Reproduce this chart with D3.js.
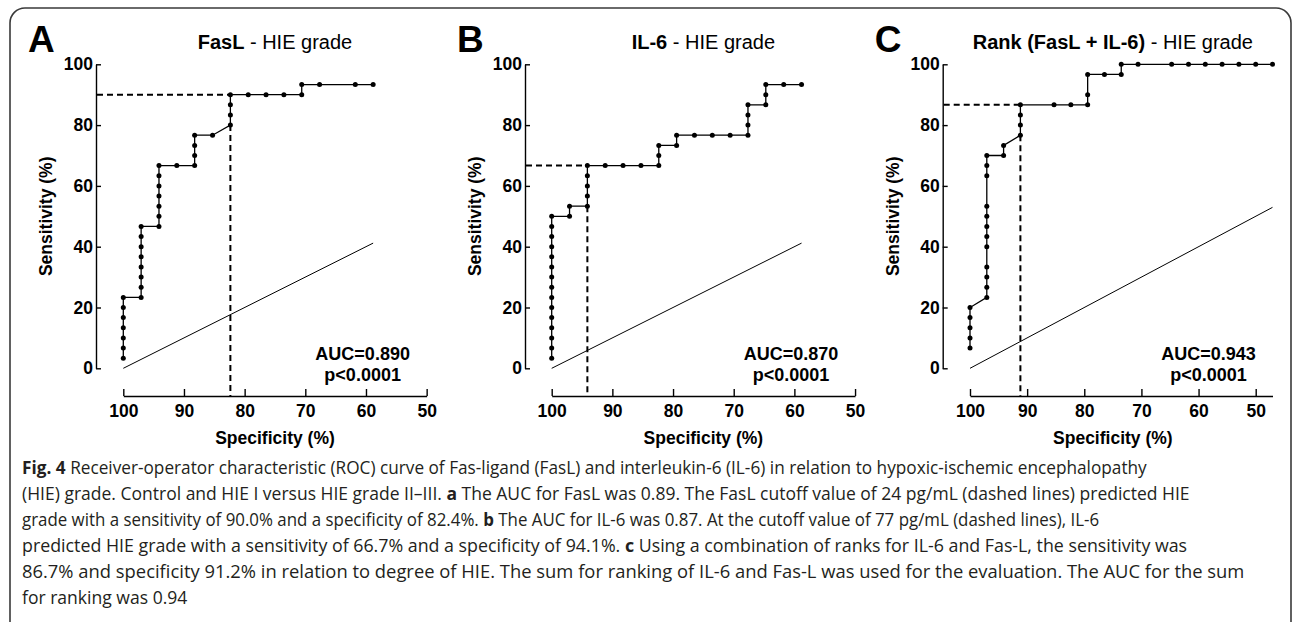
<!DOCTYPE html>
<html>
<head>
<meta charset="utf-8">
<script src="https://cdn.jsdelivr.net/npm/d3@7"></script>
<style>
body { margin: 0; background: #fff; }
svg { display: block; }
</style>
</head>
<body>
<div id="main_center"></div>
<script>
// ROC data (specificity %, sensitivity %)
var specA = [100,100,100,100,100,100,100, 97.06,97.06,97.06,97.06,97.06,97.06,97.06,97.06,
  94.12,94.12,94.12,94.12,94.12,94.12,94.12, 91.18, 88.24,88.24,88.24,88.24, 85.29,
  82.35,82.35,82.35,82.35, 79.41,76.47,73.53,70.59,70.59, 67.65,61.76,58.82];
var sensA = [3.33,6.67,10,13.33,16.67,20,23.33, 23.33,26.67,30,33.33,36.67,40,43.33,46.67,
  46.67,50,53.33,56.67,60,63.33,66.67, 66.67, 66.67,70,73.33,76.67, 76.67,
  80,83.33,86.67,90, 90,90,90,90,93.33, 93.33,93.33,93.33];

var specB = [100,100,100,100,100,100,100,100,100,100,100,100,100,100,100, 97.06,97.06,
  94.12,94.12,94.12,94.12,94.12, 91.18,88.24,85.29, 82.35,82.35,82.35, 79.41,79.41,
  76.47,73.53,70.59, 67.65,67.65,67.65,67.65, 64.71,64.71,64.71, 61.76,58.82];
var sensB = [3.33,6.67,10,13.33,16.67,20,23.33,26.67,30,33.33,36.67,40,43.33,46.67,50, 50,53.33,
  53.33,56.67,60,63.33,66.67, 66.67,66.67,66.67, 66.67,70,73.33, 73.33,76.67,
  76.67,76.67,76.67, 76.67,80,83.33,86.67, 86.67,90,93.33, 93.33,93.33];

var specC = [100,100,100,100,100, 97.06,97.06,97.06,97.06,97.06,97.06,97.06,97.06,97.06,97.06,97.06,97.06,
  94.12,94.12, 91.18,91.18,91.18,91.18, 85.29,82.35,79.41,79.41,79.41, 76.47,73.53,73.53,
  70.59,64.71,61.76,58.82,55.88,52.94,50,47.06];
var sensC = [6.67,10,13.33,16.67,20, 23.33,26.67,30,33.33,40,43.33,46.67,50,53.33,63.33,66.67,70,
  70,73.33, 76.67,80,83.33,86.67, 86.67,86.67,86.67,90,96.67, 96.67,96.67,100,
  100,100,100,100,100,100,100,100];

var panelLetters = ["A", "B", "C"];
var markerNames = ["FasL", "IL-6", "Rank (FasL + IL-6)"];
var aucLabels = ["AUC=0.890", "AUC=0.870", "AUC=0.943"];
var pLabels = ["p<0.0001", "p<0.0001", "p<0.0001"];
var cutSpec = [82.35, 94.12, 91.18];
var cutSens = [90, 66.67, 86.67];
var yTicks = [0, 20, 40, 60, 80, 100];
var xTicks = [100, 90, 80, 70, 60, 50];

var captionLines = [
  [["Fig. 4", true], [" Receiver-operator characteristic (ROC) curve of Fas-ligand (FasL) and interleukin-6 (IL-6) in relation to hypoxic-ischemic encephalopathy", false]],
  [["(HIE) grade. Control and HIE I versus HIE grade II\u2013III. ", false], ["a", true], [" The AUC for FasL was 0.89. The FasL cutoff value of 24 pg/mL (dashed lines) predicted HIE", false]],
  [["grade with a sensitivity of 90.0% and a specificity of 82.4%. ", false], ["b", true], [" The AUC for IL-6 was 0.87. At the cutoff value of 77 pg/mL (dashed lines), IL-6", false]],
  [["predicted HIE grade with a sensitivity of 66.7% and a specificity of 94.1%. ", false], ["c", true], [" Using a combination of ranks for IL-6 and Fas-L, the sensitivity was", false]],
  [["86.7% and specificity 91.2% in relation to degree of HIE. The sum for ranking of IL-6 and Fas-L was used for the evaluation. The AUC for the sum", false]],
  [["for ranking was 0.94", false]]
];
var captionEnds = [1147, 1190, 1100, 1188, 1245, null];

var panels = [
  {spec: specA, sens: sensA, axisX: 96, x100: 123.3, step: 60.67},
  {spec: specB, sens: sensB, axisX: 525, x100: 551.7, step: 60.67},
  {spec: specC, sens: sensC, axisX: 942.7, x100: 970, step: 57.14}
];

var W = 1292, H = 622;
var svg = d3.select("#main_center").append("svg")
    .attr("width", W)
    .attr("height", H)
    .style("font-family", "'Liberation Sans', Arial, sans-serif");

// rounded frame round the figure
svg.append("rect")
    .attr("x", 10).attr("y", 8)
    .attr("width", 1281).attr("height", 660)
    .attr("rx", 15)
    .attr("fill", "none")
    .attr("stroke", "#3a3a3a")
    .attr("stroke-width", 1.6);

var y = d3.scaleLinear().domain([0, 100]).range([368.3, 64.3]);
var xAxisY = 396;

panels.forEach(function(p, i) {
    var data = p.spec.map(function(s, j) { return {spec: s, sens: p.sens[j]}; });
    var lastSpec = d3.min(p.spec);
    var xEnd = Math.min(50, lastSpec);
    var x = d3.scaleLinear()
        .domain([100, xEnd])
        .range([p.x100, p.x100 + (100 - xEnd) / 10 * p.step]);
    var g = svg.append("g");

    // y axis
    var yAxis = g.append("g")
        .attr("transform", "translate(" + p.axisX + ",0)")
        .call(d3.axisLeft(y).tickValues(yTicks).tickSizeInner(-5).tickSizeOuter(0).tickPadding(3));
    // x axis
    var xAxis = g.append("g")
        .attr("transform", "translate(0," + xAxisY + ")")
        .call(d3.axisBottom(x).tickValues(xTicks).tickSizeInner(-7).tickSizeOuter(0).tickPadding(9));

    [yAxis, xAxis].forEach(function(a) {
        a.selectAll("path, line").attr("stroke", "#000").attr("stroke-width", 1.4);
        a.selectAll("text")
            .attr("fill", "#000")
            .style("font-family", "'Liberation Sans', Arial, sans-serif")
            .style("font-size", "17.5px")
            .style("font-weight", "bold");
    });

    // line of identity
    g.append("line")
        .attr("x1", x(100)).attr("y1", y(0))
        .attr("x2", x(lastSpec)).attr("y2", y(100 - lastSpec))
        .attr("stroke", "#000").attr("stroke-width", 1);

    // cutoff dashed lines
    var colBottom = d3.min(data.filter(function(d) { return d.spec === cutSpec[i]; }), function(d) { return d.sens; });
    g.append("line")
        .attr("x1", p.axisX + 1).attr("y1", y(cutSens[i]))
        .attr("x2", x(cutSpec[i])).attr("y2", y(cutSens[i]))
        .attr("stroke", "#000").attr("stroke-width", 2)
        .attr("stroke-dasharray", "6,4");
    g.append("line")
        .attr("x1", x(cutSpec[i])).attr("y1", y(colBottom))
        .attr("x2", x(cutSpec[i])).attr("y2", xAxisY)
        .attr("stroke", "#000").attr("stroke-width", 2)
        .attr("stroke-dasharray", "6,4");

    // ROC curve
    var line = d3.line()
        .x(function(d) { return x(d.spec); })
        .y(function(d) { return y(d.sens); });
    g.append("path")
        .datum(data)
        .attr("d", line)
        .attr("fill", "none")
        .attr("stroke", "#000")
        .attr("stroke-width", 1.3);
    g.selectAll(".dot")
        .data(data)
        .enter().append("circle")
        .attr("class", "dot")
        .attr("cx", function(d) { return x(d.spec); })
        .attr("cy", function(d) { return y(d.sens); })
        .attr("r", 2.5)
        .attr("fill", "#000");

    var cx = (x(100) + x(50)) / 2;

    // panel letter
    g.append("text")
        .attr("x", p.axisX - 68).attr("y", 52)
        .style("font-size", "37px").style("font-weight", "bold")
        .text(panelLetters[i]);

    // title
    var title = g.append("text")
        .attr("x", cx).attr("y", 49)
        .attr("text-anchor", "middle")
        .style("font-size", "20px");
    title.append("tspan").style("font-weight", "bold").text(markerNames[i]);
    title.append("tspan").text(" - HIE grade");

    // axis titles
    g.append("text")
        .attr("transform", "translate(" + (p.axisX - 44) + "," + y(50) + ") rotate(-90)")
        .attr("text-anchor", "middle")
        .style("font-size", "17.5px").style("font-weight", "bold")
        .text("Sensitivity (%)");
    g.append("text")
        .attr("x", cx).attr("y", 444)
        .attr("text-anchor", "middle")
        .style("font-size", "17.5px").style("font-weight", "bold")
        .text("Specificity (%)");

    // AUC annotation
    var ax = x(xEnd) - 64;
    g.append("text")
        .attr("x", ax).attr("y", 360)
        .attr("text-anchor", "middle")
        .style("font-size", "18px").style("font-weight", "bold")
        .text(aucLabels[i]);
    g.append("text")
        .attr("x", ax).attr("y", 381)
        .attr("text-anchor", "middle")
        .style("font-size", "18px").style("font-weight", "bold")
        .text(pLabels[i]);
});

// caption: each full line is squeezed horizontally to the reference width,
// the short last line gets the mean squeeze of the others
var scales = [];
var captionTexts = captionLines.map(function(parts, k) {
    var t = svg.append("text")
        .attr("x", 0).attr("y", 0)
        .attr("fill", "#231f20")
        .style("font-family", "'Open Sans', 'Noto Sans', sans-serif")
        .style("font-size", "18px");
    parts.forEach(function(pt) {
        t.append("tspan")
            .style("font-weight", pt[1] ? "bold" : "normal")
            .text(pt[0]);
    });
    if (captionEnds[k]) {
        scales.push((captionEnds[k] - 22) / t.node().getComputedTextLength());
    }
    return t;
});
var meanScale = d3.mean(scales);
captionTexts.forEach(function(t, k) {
    var sx = captionEnds[k] ? (captionEnds[k] - 22) / t.node().getComputedTextLength() : meanScale;
    t.attr("transform", "translate(22," + (474 + k * 26) + ") scale(" + sx + ",1)");
});
</script>
</body>
</html>
